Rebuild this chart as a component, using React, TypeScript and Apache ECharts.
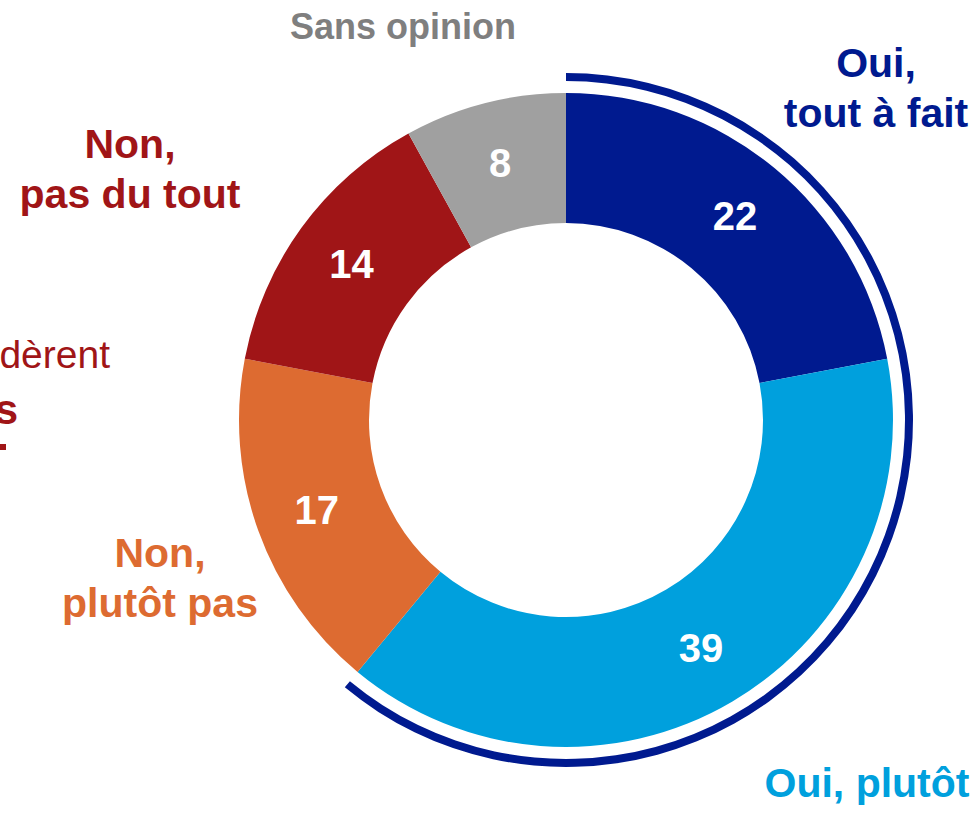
import React, { useEffect, useRef } from "react";
import * as echarts from "echarts";

const categories = ["Oui, tout à fait", "Oui, plutôt", "Non, plutôt pas", "Non, pas du tout", "Sans opinion"];
const values = [22, 39, 17, 14, 8];
const colors = ["#001A8F", "#00A0DD", "#DD6B31", "#A01517", "#A0A0A0"];
const outerLabels = ["Oui,\ntout à fait", "Oui, plutôt", "Non,\nplutôt pas", "Non,\npas du tout", "Sans opinion"];
const labelColors = ["#001A8F", "#00A0DD", "#DD6B31", "#A01517", "#7F7F7F"];

const FONT = 'Arial, "Liberation Sans", sans-serif';

export default function App() {
  const ref = useRef<HTMLDivElement>(null);
  useEffect(() => {
    document.body.style.margin = "0";
    const chart = echarts.init(ref.current!, null, { renderer: "svg" });
    const ouiTotal = values[0] + values[1];
    const rest = values.slice(2).reduce((a, b) => a + b, 0);
    const labelPos: [number, number, number][] = [
      [876, 88, 41],
      [867, 783, 41],
      [160, 578, 41],
      [130, 169, 41],
      [403, 26, 36],
    ];
    chart.setOption({
      animation: false,
      backgroundColor: "#ffffff",
      series: [
        {
          type: "pie",
          center: [566, 420],
          radius: [197, 327],
          startAngle: 90,
          clockwise: true,
          silent: true,
          avoidLabelOverlap: false,
          label: {
            show: true,
            position: "inside",
            color: "#ffffff",
            fontSize: 40,
            fontWeight: "bold",
            fontFamily: FONT,
            formatter: "{c}",
          },
          labelLine: { show: false },
          itemStyle: { borderWidth: 0 },
          data: categories.map((name, i) => ({
            name,
            value: values[i],
            itemStyle: { color: colors[i] },
          })),
        },
        {
          type: "pie",
          center: [566, 420],
          radius: [339, 347],
          startAngle: 90,
          clockwise: true,
          silent: true,
          label: { show: false },
          labelLine: { show: false },
          itemStyle: { borderWidth: 0 },
          data: [
            { name: "Oui", value: ouiTotal, itemStyle: { color: "#001A8F" } },
            { name: "Autres", value: rest, itemStyle: { color: "rgba(0,0,0,0)" } },
          ],
        },
      ],
      graphic: [
        ...outerLabels.map((t, i) => ({
          type: "text",
          x: labelPos[i][0],
          y: labelPos[i][1],
          silent: true,
          style: {
            text: t,
            fill: labelColors[i],
            fontSize: labelPos[i][2],
            fontWeight: "bold",
            fontFamily: FONT,
            align: "center",
            verticalAlign: "middle",
            lineHeight: 50,
          },
        })),
        {
          type: "text",
          x: 110,
          y: 354,
          silent: true,
          style: {
            text: "dèrent",
            fill: "#A01517",
            fontSize: 39,
            fontFamily: FONT,
            align: "right",
            verticalAlign: "middle",
          },
        },
        {
          type: "text",
          x: 18,
          y: 409,
          silent: true,
          style: {
            text: "s",
            fill: "#A01517",
            fontSize: 42,
            fontWeight: "bold",
            fontFamily: FONT,
            align: "right",
            verticalAlign: "middle",
          },
        },
        {
          type: "rect",
          silent: true,
          shape: { x: 0, y: 444, width: 6, height: 6 },
          style: { fill: "#A01517" },
        },
      ],
    });
    return () => chart.dispose();
  }, []);
  return (
    <div
      ref={ref}
      style={{ position: "absolute", left: 0, top: 0, width: 978, height: 813 }}
    />
  );
}
